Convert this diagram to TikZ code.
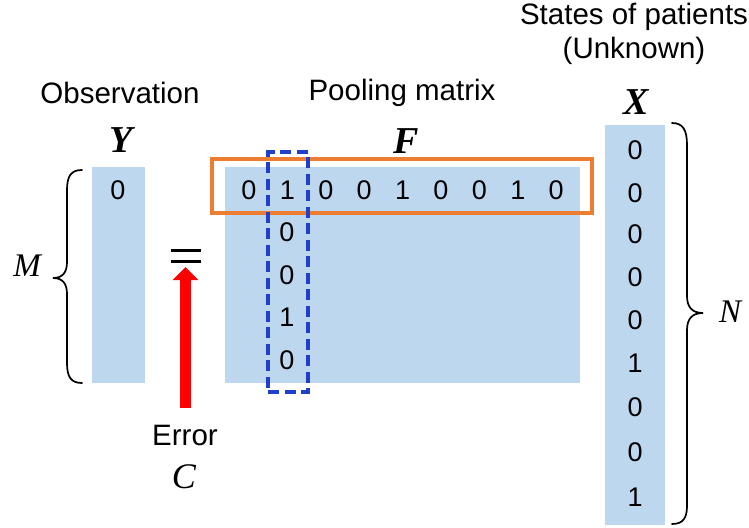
\documentclass[tikz,border=0pt]{standalone}
\usepackage{fontspec}
\setmainfont{Liberation Sans}
\newfontfamily\serifface{Liberation Serif}
\usetikzlibrary{arrows.meta}
\definecolor{cellblue}{HTML}{BDD7EE}
\definecolor{rowor}{HTML}{ED7D31}
\definecolor{coldash}{HTML}{1F3FCC}
\definecolor{errred}{HTML}{FF0000}
\begin{document}
\begin{tikzpicture}[x=1pt,y=-1pt,
  cell/.style={fill=cellblue, draw=none, inner sep=0pt},
  dig/.style={font=\fontsize{27}{32}\selectfont, inner sep=0pt},
  lab/.style={font=\fontsize{29.5}{35}\selectfont, inner sep=0pt},
  vec/.style={font=\fontsize{38}{42}\selectfont\serifface\bfseries\itshape, inner sep=0pt},
  sym/.style={font=\fontsize{33}{38}\selectfont\serifface\itshape, inner sep=0pt},
  bracepath/.style={line width=1.7pt, line cap=round},
  rowbox/.style={draw=rowor, line width=3.2pt, inner sep=0pt},
  colbox/.style={draw=coldash, line width=3.2pt, dash pattern=on 11pt off 5.5pt, inner sep=0pt},
  errarrow/.style={draw=errred, line width=11pt, -{Triangle[width=25pt,length=13pt]}}]
\useasboundingbox (0,0) rectangle (749,527);

% matrices
\node[cell, minimum width=53pt, minimum height=216pt] (Ym) at (118.5,275) {};
\node[cell, minimum width=355pt, minimum height=216pt] (Fm) at (402.5,275) {};
\node[cell, minimum width=60pt, minimum height=400pt] (Xm) at (635,324.5) {};

% highlight boxes
\node[rowbox, minimum width=380pt, minimum height=54pt] (row) at (402,186) {};
\node[colbox, minimum width=40pt, minimum height=240pt] (col) at (288,272) {};

% titles
\node[lab] (tobs) at (120,93) {Observation};
\node[lab] (tpool) at (402,93) {Pooling matrix};
\node[lab, anchor=base] (tst) at (634,25) {States of patients};
\node[lab, anchor=base] (tunk) at (634,59) {(Unknown)};
\node[vec] (lY) at (121,140) {Y};
\node[vec] (lF) at (406,141) {F};
\node[vec] (lX) at (636,102) {X};

% Y entries
\node[dig] (y1) at (118,190) {0};

% F entries
\foreach \v [count=\i] in {0,1,0,0,1,0,0,1,0}{
  \pgfmathsetmacro{\xx}{249+38.4*(\i-1)}
  \node[dig] (f1\i) at (\xx,190) {\v};
}
\node[dig] (f22) at (287,232.5) {0};
\node[dig] (f32) at (287,275) {0};
\node[dig] (f42) at (287,317.5) {1};
\node[dig] (f52) at (287,360) {0};

% X entries
\foreach \v/\yy [count=\i] in {0/150,0/193,0/234,0/277,0/320,1/363,0/407,0/452,1/497}{
  \node[dig] (x\i) at (635,\yy) {\v};
}

% equals sign
\node[inner sep=0pt, minimum width=30pt, minimum height=11pt] (eq) at (186,256) {};
\draw[line width=3pt] (eq.north west) -- (eq.north east);
\draw[line width=3pt] (eq.south west) -- (eq.south east);

% error arrow
\node[lab] (err) at (185,435) {Error};
\node[sym, font=\fontsize{36}{40}\selectfont\serifface\itshape] (lC) at (184,477) {C};
\coordinate (arrbase) at (185.5,408);
\coordinate (arrtip) at (185.5,267);
\draw[errarrow] (arrbase) -- (arrtip);

% braces
\draw[bracepath] (82,170) .. controls (71,170) and (67,176) .. (67,190)
  -- (67,262) .. controls (67,272) and (63,278) .. (53,278)
  .. controls (63,278) and (67,284) .. (67,294)
  -- (67,363) .. controls (67,377) and (71,383) .. (82,383);
\node[sym] (lM) at (27,266) {M};

\draw[bracepath] (672,123) .. controls (683,123) and (687,130) .. (687,145)
  -- (687,296) .. controls (687,307) and (692,313) .. (703,313)
  .. controls (692,313) and (687,319) .. (687,330)
  -- (687,506) .. controls (687,518) and (683,524) .. (672,524);
\node[sym] (lN) at (730,312) {N};
\end{tikzpicture}
\end{document}
